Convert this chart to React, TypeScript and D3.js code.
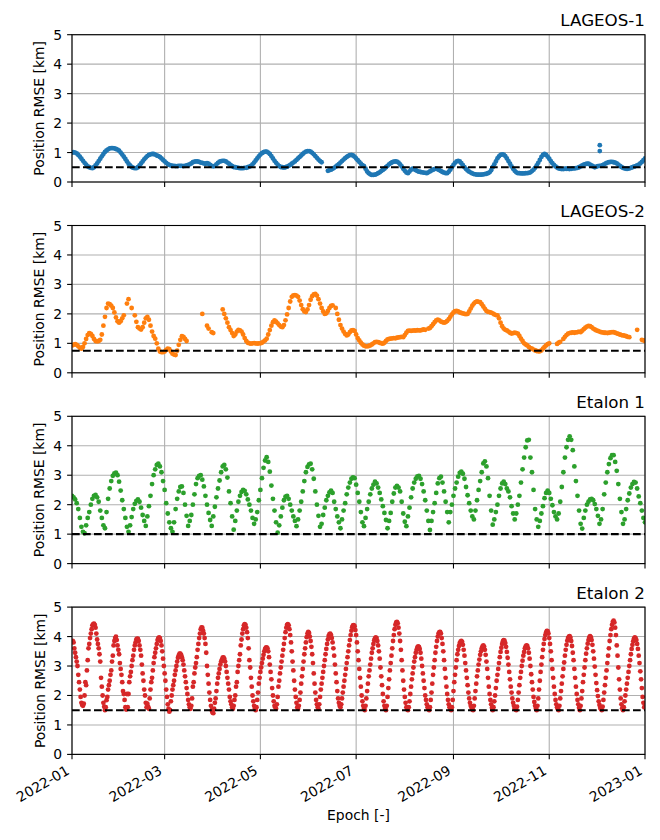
import React from 'react';
import * as d3 from 'd3';

// ---------- data ----------
const START = Date.UTC(2022, 0, 1);
const END = Date.UTC(2023, 0, 1);
const DAY = 86400000;

const SAT_NAMES = ['LAGEOS-1', 'LAGEOS-2', 'Etalon 1', 'Etalon 2'];
const SAT_COLORS = ['#1f77b4', '#ff7f0e', '#2ca02c', '#d62728'];
const THRESHOLDS = [0.5, 0.75, 1.0, 1.5];
const Y_TICKS = [0, 1, 2, 3, 4, 5];
const Y_DOMAIN = [0, 5];
const X_LABEL = 'Epoch [-]';
const Y_LABEL = 'Position RMSE [km]';

// daily values, index = day of 2022
const LAGEOS1_DAILY: (number | null)[] = [
  1.0,1.01,1.0,0.97,0.92,0.86,0.79,0.72,0.65,0.59,
  0.53,0.5,0.48,0.47,0.5,0.56,0.63,0.71,0.79,0.87,
  0.95,1.02,1.07,1.11,1.14,1.15,1.15,1.14,1.12,1.1,
  1.06,1.0,0.93,0.86,0.78,0.7,0.62,0.56,0.51,0.48,
  0.47,0.47,0.5,0.56,0.63,0.7,0.77,0.83,0.88,0.92,
  0.94,0.95,0.95,0.93,0.9,0.88,0.85,0.8,0.75,0.7,
  0.65,0.61,0.58,0.56,0.55,0.55,0.54,0.54,0.55,0.55,
  0.55,0.54,0.55,0.56,0.58,0.6,0.63,0.67,0.69,0.7,
  0.7,0.68,0.66,0.65,0.63,0.62,0.64,0.62,0.58,0.55,
  0.53,0.55,0.6,0.65,0.69,0.71,0.72,0.72,0.7,0.66,
  0.62,0.58,0.54,0.51,0.5,0.49,0.48,0.47,0.47,0.47,
  0.48,0.48,0.5,0.52,0.55,0.6,0.66,0.73,0.8,0.87,
  0.93,0.98,1.01,1.03,1.03,1.0,0.95,0.88,0.8,0.72,
  0.65,0.59,0.54,0.51,0.5,0.49,0.5,0.52,0.55,0.58,
  0.62,0.66,0.7,0.75,0.8,0.85,0.9,0.95,1.0,1.03,
  1.05,1.05,1.03,0.99,0.94,0.88,0.82,0.76,0.71,0.67,
  null,null,null,0.38,0.4,0.42,0.45,0.48,0.52,0.56,
  0.61,0.66,0.71,0.76,0.81,0.85,0.89,0.91,0.92,0.9,
  0.86,0.8,0.74,0.68,0.62,0.57,0.54,0.45,0.36,0.3,
  0.26,0.24,0.24,0.25,0.27,0.3,0.33,0.37,0.41,0.45,
  0.5,0.55,0.6,0.64,0.67,0.69,0.7,0.69,0.66,0.6,
  0.53,0.45,0.38,0.32,0.3,0.36,0.42,0.45,0.43,0.4,
  0.37,0.35,0.34,0.33,0.32,0.31,0.3,0.33,0.36,0.39,
  0.42,0.44,0.45,0.43,0.4,0.37,0.34,0.32,0.3,0.3,
  0.35,0.42,0.5,0.58,0.65,0.7,0.72,0.7,0.64,0.57,
  0.5,0.44,0.39,0.35,0.32,0.29,0.27,0.26,0.25,0.25,
  0.25,0.25,0.26,0.27,0.28,0.3,0.33,0.4,0.5,0.6,
  0.7,0.8,0.87,0.92,0.94,0.93,0.88,0.8,0.71,0.62,
  0.53,0.45,0.38,0.33,0.3,0.3,0.29,0.29,0.29,0.3,
  0.3,0.31,0.33,0.37,0.42,0.48,0.56,0.65,0.75,0.85,
  0.92,0.95,0.92,0.86,0.79,0.71,0.64,0.58,0.53,0.49,
  0.46,0.45,0.44,0.44,0.45,0.45,0.45,0.44,0.45,0.46,
  0.46,0.47,0.48,0.5,0.53,0.56,0.59,0.61,0.62,0.62,
  0.59,0.56,0.53,0.5,0.52,0.54,0.55,0.55,0.57,0.6,
  0.63,0.66,0.67,0.68,0.68,0.67,0.66,0.63,0.59,0.55,
  0.51,0.48,0.46,0.45,0.45,0.46,0.48,0.5,0.52,0.54,
  0.56,0.59,0.63,0.68,0.74,0.8,
];
const LAGEOS1_OUTLIERS: [number, number][] = [[336.2, 1.25], [336.2, 1.05]];

const LAGEOS2_DAILY: (number | null)[] = [
  0.93,0.95,0.97,0.95,0.9,0.85,0.82,0.88,1.0,1.15,
  1.28,1.35,1.32,1.25,1.15,1.08,1.07,1.08,1.12,1.3,
  1.6,1.9,2.2,2.35,2.33,2.28,2.2,2.05,1.88,1.75,
  1.7,1.75,1.85,1.95,null,2.35,2.5,null,2.2,null,
  1.95,1.73,1.55,1.5,1.47,1.55,1.7,1.85,1.9,1.8,
  1.6,1.4,1.25,1.16,1.0,0.82,0.72,0.7,0.7,0.72,
  0.78,0.82,0.8,0.72,0.65,0.62,0.6,0.75,0.95,1.12,
  1.24,1.22,1.15,1.08,null,null,null,null,null,null,
  null,null,null,2.0,null,null,1.6,1.5,null,1.38,
  1.35,null,null,null,null,null,2.15,2.0,1.85,1.7,
  1.55,1.45,1.35,1.25,1.3,1.4,1.46,1.44,1.4,1.3,
  1.18,1.08,1.02,1.0,0.99,1.0,1.01,1.0,0.99,1.0,
  1.0,1.02,1.06,1.1,1.16,1.3,1.45,1.6,1.72,1.78,
  1.74,1.68,1.62,1.57,1.55,1.62,1.78,1.98,2.2,2.42,
  2.58,2.63,2.64,2.62,2.58,2.45,2.3,2.16,2.08,2.06,
  2.15,2.3,2.48,2.6,2.66,2.68,2.62,2.5,2.35,2.2,
  2.08,2.0,2.02,2.1,2.2,2.27,2.29,null,2.2,2.0,
  1.8,1.62,1.5,1.4,1.32,1.27,1.3,1.38,1.44,1.45,
  1.42,1.3,1.18,1.1,1.02,0.96,0.92,0.9,0.9,0.91,
  0.93,0.96,1.0,1.04,1.05,1.04,1.02,1.0,0.99,1.02,
  1.08,1.13,1.15,1.16,1.17,1.18,1.17,1.19,1.2,1.21,
  1.22,1.21,1.28,1.36,1.42,1.43,1.42,1.43,1.44,1.43,
  1.45,1.44,1.44,1.46,1.47,1.46,null,1.5,1.52,1.58,
  1.65,1.72,1.78,1.8,1.78,1.74,1.72,1.7,1.72,1.76,
  1.82,1.9,1.98,2.05,2.09,2.1,2.08,2.05,2.03,2.02,
  2.0,1.99,2.0,2.08,2.18,2.28,2.35,2.4,2.42,2.41,
  2.4,2.33,2.25,2.17,2.1,2.07,2.06,2.04,2.02,1.98,
  1.96,1.95,1.85,1.7,1.58,1.5,1.46,1.44,1.4,1.36,
  1.33,1.35,1.36,1.35,1.33,1.25,1.16,1.08,1.0,0.96,
  0.93,0.88,0.84,0.82,0.79,0.76,0.74,0.73,0.73,0.76,
  0.82,0.88,0.93,0.97,1.0,null,null,null,null,0.98,
  1.02,1.05,null,1.15,1.22,1.28,1.33,1.35,1.36,1.37,
  1.36,1.37,1.38,1.4,1.38,1.43,1.48,1.53,1.57,1.59,
  1.58,1.55,1.5,1.47,1.44,1.42,1.4,1.38,1.37,1.36,
  1.36,1.35,1.36,1.37,1.38,1.38,1.36,1.34,1.32,1.3,
  1.28,1.27,1.26,1.24,1.22,1.21,null,null,null,null,
  1.46,null,null,1.12,1.1,1.08,
];

const ETALON1_DAILY: (number | null)[] = [
  2.3,2.25,2.18,2.05,1.85,1.55,1.25,1.08,1.03,1.3,
  1.55,1.75,2.0,2.2,2.3,2.33,2.25,2.1,1.8,1.55,
  1.3,1.2,1.75,2.2,2.55,2.8,2.98,3.06,3.09,3.0,
  2.78,2.48,2.15,1.85,1.55,1.25,1.08,1.3,1.58,1.85,
  2.03,2.13,2.18,2.1,1.9,1.65,1.45,1.28,1.6,1.95,
  2.3,2.7,3.0,3.2,3.35,3.39,3.3,3.1,2.8,2.5,
  2.05,1.7,1.4,1.2,1.08,1.4,1.85,2.2,2.45,2.6,
  2.62,2.4,2.0,1.62,1.28,1.45,1.65,2.0,2.35,2.7,
  2.9,2.98,3.0,2.85,2.62,2.3,2.0,1.72,1.48,1.28,
  1.6,1.93,2.25,2.55,2.82,3.1,3.3,3.35,3.2,2.92,
  2.45,2.05,1.6,1.15,1.45,1.8,2.1,2.3,2.43,2.5,
  2.47,2.35,2.18,2.0,1.8,1.55,1.35,1.5,1.75,2.15,
  2.5,2.9,3.25,3.5,3.61,3.45,3.12,2.65,2.2,1.8,
  1.4,1.05,1.3,1.6,1.9,2.15,2.27,2.3,2.2,2.0,
  1.8,1.6,1.45,1.27,1.5,1.8,2.1,2.45,2.8,3.1,
  3.28,3.37,3.39,3.2,2.88,2.45,2.0,1.62,1.25,1.35,
  1.65,1.9,2.15,2.3,2.42,2.48,2.4,2.1,1.85,1.6,
  1.4,1.2,1.5,1.8,2.05,2.35,2.58,2.75,2.88,2.93,
  2.9,2.68,2.4,2.1,1.75,1.4,1.27,1.55,1.85,2.1,
  2.35,2.55,2.68,2.78,2.72,2.58,2.4,2.18,1.95,1.72,
  1.48,1.2,1.45,1.72,2.1,2.38,2.58,2.64,2.58,2.45,
  2.1,1.7,1.42,1.27,1.6,1.9,2.25,2.55,2.75,2.88,
  2.96,2.98,2.88,2.7,2.45,2.15,1.8,1.45,1.14,1.45,
  1.75,2.05,2.4,2.72,2.9,2.95,2.75,2.45,2.1,1.75,
  1.4,1.75,2.0,2.3,2.55,2.75,2.95,3.08,3.12,3.05,
  2.88,2.6,2.32,2.05,1.8,1.6,1.5,1.8,2.15,2.5,
  2.8,3.1,3.4,3.47,3.3,2.9,2.3,1.8,1.32,1.5,
  1.75,2.0,2.3,2.55,2.72,2.78,2.7,2.55,2.45,2.25,
  1.95,1.7,1.5,1.7,2.0,2.3,2.75,3.2,3.6,3.95,
  4.18,4.2,3.6,3.1,2.5,1.85,1.5,1.25,1.45,1.7,
  1.95,2.22,2.4,2.48,2.4,2.2,1.98,1.75,1.6,1.5,
  1.7,2.1,2.6,3.1,3.6,3.95,4.2,4.32,4.2,3.85,
  3.3,2.8,2.3,1.8,1.35,1.19,1.55,1.8,2.0,2.1,
  2.18,2.2,2.15,2.02,1.85,1.62,1.35,1.5,1.85,2.35,
  2.75,3.1,3.38,3.58,3.68,3.68,3.45,3.15,2.7,2.2,
  1.75,1.35,1.5,1.85,2.15,2.38,2.58,2.7,2.77,2.75,
  2.55,2.28,2.05,1.8,1.55,1.4,
];

// [day of 2022, km]
const ETALON2_POINTS: [number, number][] = [
  [0.5,3.85],[1,3.8],[1.5,3.6],[2,3.45],[2.5,3.3],[3,3.15],[3.5,3.0],[4,2.7],[4.5,2.45],[5,2.2],[5.5,1.95],[6,1.75],[6.5,1.68],[7,1.65],[7.5,1.72],[8,2.0],[8.5,2.45],[9,2.35],[9.5,2.85],[10,3.2],[10.5,3.6],[11,3.75],[11.5,3.95],[12,4.1],[12.5,4.25],[13,4.38],[13.5,4.42],[14,4.44],[14.5,4.4],[15,4.3],[15.5,4.1],[16,3.9],[16.5,3.75],[17,3.6],[17.5,3.4],[18,3.15],[18.5,2.6],[19,2.3],[19.5,2.0],[20,1.75],[20.5,1.62],[21,1.5],
  [21.5,1.6],[22,1.84],[22.5,1.95],[23,2.2],[23.5,2.35],[24,2.5],[24.5,2.7],[25,2.85],[25.5,3.15],[26,3.35],[26.5,3.7],[27,3.85],[27.5,3.95],[28,4.0],[28.5,3.88],[29,3.7],[29.5,3.55],[30,3.4],[30.5,3.1],[31,2.9],[31.5,2.7],[32,2.45],[32.5,2.15],[33,2.05],[33.5,1.85],[34,1.6],[34.5,1.52],[35,2.05],[35.5,1.6],
  [36,2.05],[36.5,2.45],[37,2.65],[37.5,2.8],[38,3.0],[38.5,3.2],[39,3.35],[39.5,3.55],[40,3.7],[40.5,3.8],[41,3.9],[41.5,3.93],[42,3.92],[42.5,3.85],[43,3.7],[43.5,3.55],[44,3.35],[44.5,3.05],[45,2.75],[45.5,2.5],[46,2.2],[46.5,2.0],[47,1.75],[47.5,1.6],[48,1.72],[48.5,1.62],[49,1.55],
  [49.5,1.9],[50,2.2],[50.5,2.45],[51,2.6],[51.5,2.85],[52,3.1],[52.5,3.3],[53,3.45],[53.5,3.6],[54,3.75],[54.5,3.88],[55,3.95],[55.5,3.97],[56,3.95],[56.5,3.85],[57,3.7],[57.5,3.5],[58,3.25],[58.5,3.0],[59,2.75],[59.5,2.5],[60,2.2],[60.5,1.95],[61,1.7],[61.5,1.55],[62,1.45],
  [62.5,1.5],[63,1.8],[63.5,2.0],[64,2.2],[64.5,2.35],[65,2.5],[65.5,2.7],[66,2.85],[66.5,3.0],[67,3.15],[67.5,3.28],[68,3.36],[68.5,3.42],[69,3.42],[69.5,3.38],[70,3.3],[70.5,3.2],[71,3.05],[71.5,2.85],[72,2.65],[72.5,2.45],[73,2.25],[73.5,2.05],[74,1.85],[74.5,1.7],[75,1.6],[75.5,1.55],
  [76,1.65],[76.5,1.9],[77,2.3],[77.5,2.45],[78,2.75],[78.5,2.95],[79,3.1],[79.5,3.3],[80,3.55],[80.5,3.75],[81,3.95],[81.5,4.1],[82,4.25],[82.5,4.31],[83,4.3],[83.5,4.2],[84,4.1],[84.5,3.95],[85,3.75],[85.5,3.45],[86,3.0],[86.5,2.7],[87,2.4],[87.5,2.1],[88,1.85],[88.5,1.65],[89,1.5],[89.5,1.42],[90,1.4],
  [90.5,1.55],[91,1.75],[91.5,1.9],[92,2.15],[92.5,2.4],[93,2.6],[93.5,2.75],[94,2.9],[94.5,3.05],[95,3.15],[95.5,3.22],[96,3.28],[96.5,3.29],[97,3.25],[97.5,3.15],[98,3.0],[98.5,2.8],[99,2.6],[99.5,2.4],[100,2.2],[100.5,1.95],[101,1.8],[101.5,1.7],[102,1.6],[102.5,1.55],
  [103,1.65],[103.5,1.85],[104,2.0],[104.5,2.3],[105,2.45],[105.5,2.8],[106,3.0],[106.5,3.2],[107,3.4],[107.5,3.7],[108,3.9],[108.5,4.1],[109,4.25],[109.5,4.38],[110,4.42],[110.5,4.4],[111,4.3],[111.5,4.15],[112,3.95],[112.5,3.6],[113,3.2],[113.5,2.95],[114,2.6],[114.5,2.3],[115,2.0],[115.5,1.8],[116,1.65],[116.5,1.55],[117,1.5],
  [117.5,1.6],[118,1.85],[118.5,2.1],[119,2.4],[119.5,2.6],[120,2.8],[120.5,2.95],[121,3.1],[121.5,3.25],[122,3.38],[122.5,3.5],[123,3.58],[123.5,3.62],[124,3.63],[124.5,3.6],[125,3.5],[125.5,3.3],[126,3.05],[126.5,2.8],[127,2.55],[127.5,2.25],[128,2.0],[128.5,1.8],[129,1.65],[129.5,1.6],[130,1.55],
  [130.5,1.7],[131,1.95],[131.5,2.3],[132,2.5],[132.5,2.75],[133,2.95],[133.5,3.15],[134,3.35],[134.5,3.55],[135,3.75],[135.5,3.95],[136,4.15],[136.5,4.3],[137,4.4],[137.5,4.42],[138,4.38],[138.5,4.25],[139,4.05],[139.5,3.8],[140,3.5],[140.5,3.15],[141,2.85],[141.5,2.5],[142,2.2],[142.5,1.95],[143,1.75],[143.5,1.6],[144,1.55],
  [144.5,1.65],[145,1.85],[145.5,2.1],[146,2.4],[146.5,2.65],[147,2.9],[147.5,3.15],[148,3.4],[148.5,3.6],[149,3.8],[149.5,3.98],[150,4.1],[150.5,4.16],[151,4.12],[151.5,4.0],[152,3.85],[152.5,3.65],[153,3.4],[153.5,3.1],[154,2.75],[154.5,2.4],[155,2.1],[155.5,1.85],[156,1.7],[156.5,1.6],[157,1.55],
  [157.5,1.7],[158,1.95],[158.5,2.2],[159,2.4],[159.5,2.6],[160,2.8],[160.5,3.0],[161,3.2],[161.5,3.4],[162,3.58],[162.5,3.75],[163,3.9],[163.5,4.02],[164,4.08],[164.5,4.1],[165,4.05],[165.5,3.95],[166,3.8],[166.5,3.6],[167,3.35],[167.5,3.05],[168,2.75],[168.5,2.45],[169,2.15],[169.5,1.9],[170,1.75],[170.5,1.65],[171,1.6],
  [171.5,1.7],[172,1.9],[172.5,2.1],[173,2.3],[173.5,2.5],[174,2.7],[174.5,2.9],[175,3.1],[175.5,3.3],[176,3.5],[176.5,3.7],[177,3.88],[177.5,4.05],[178,4.2],[178.5,4.32],[179,4.38],[179.5,4.39],[180,4.35],[180.5,4.22],[181,4.05],[181.5,3.8],[182,3.5],[182.5,3.2],[183,2.9],[183.5,2.6],[184,2.3],[184.5,2.0],[185,1.8],[185.5,1.65],[186,1.55],[186.5,1.5],
  [187,1.65],[187.5,1.9],[188,2.15],[188.5,2.4],[189,2.65],[189.5,2.85],[190,3.05],[190.5,3.25],[191,3.45],[191.5,3.6],[192,3.75],[192.5,3.87],[193,3.94],[193.5,3.97],[194,3.95],[194.5,3.85],[195,3.7],[195.5,3.5],[196,3.25],[196.5,2.95],[197,2.65],[197.5,2.35],[198,2.05],[198.5,1.8],[199,1.65],[199.5,1.55],[200,1.5],
  [200.5,1.65],[201,1.95],[201.5,2.25],[202,2.55],[202.5,2.85],[203,3.1],[203.5,3.35],[204,3.6],[204.5,3.85],[205,4.05],[205.5,4.25],[206,4.4],[206.5,4.48],[207,4.5],[207.5,4.45],[208,4.3],[208.5,4.1],[209,3.85],[209.5,3.55],[210,3.2],[210.5,2.85],[211,2.5],[211.5,2.2],[212,1.95],[212.5,1.75],[213,1.6],[213.5,1.52],[214,1.5],
  [214.5,1.6],[215,1.8],[215.5,2.05],[216,2.3],[216.5,2.55],[217,2.75],[217.5,2.95],[218,3.15],[218.5,3.3],[219,3.45],[219.5,3.55],[220,3.63],[220.5,3.67],[221,3.65],[221.5,3.58],[222,3.45],[222.5,3.25],[223,3.0],[223.5,2.75],[224,2.5],[224.5,2.25],[225,2.0],[225.5,1.85],[226,1.7],[226.5,1.6],[227,1.55],[227.5,1.5],
  [228,1.6],[228.5,1.85],[229,2.1],[229.5,2.4],[230,2.7],[230.5,2.95],[231,3.2],[231.5,3.45],[232,3.65],[232.5,3.85],[233,4.0],[233.5,4.1],[234,4.15],[234.5,4.16],[235,4.1],[235.5,3.95],[236,3.75],[236.5,3.5],[237,3.2],[237.5,2.9],[238,2.6],[238.5,2.3],[239,2.05],[239.5,1.85],[240,1.7],[240.5,1.6],[241,1.55],[241.5,1.5],
  [242,1.6],[242.5,1.85],[243,2.15],[243.5,2.45],[244,2.7],[244.5,2.95],[245,3.2],[245.5,3.4],[246,3.55],[246.5,3.68],[247,3.78],[247.5,3.83],[248,3.85],[248.5,3.82],[249,3.72],[249.5,3.55],[250,3.35],[250.5,3.1],[251,2.85],[251.5,2.6],[252,2.35],[252.5,2.1],[253,1.9],[253.5,1.75],[254,1.65],[254.5,1.58],[255,1.52],[255.5,1.5],
  [256,1.65],[256.5,1.9],[257,2.15],[257.5,2.4],[258,2.65],[258.5,2.85],[259,3.05],[259.5,3.22],[260,3.38],[260.5,3.5],[261,3.6],[261.5,3.67],[262,3.7],[262.5,3.66],[263,3.55],[263.5,3.38],[264,3.15],[264.5,2.9],[265,2.6],[265.5,2.3],[266,2.05],[266.5,1.85],[267,1.7],[267.5,1.58],[268,1.5],
  [268.5,1.6],[269,1.8],[269.5,2.0],[270,2.25],[270.5,2.5],[271,2.7],[271.5,2.9],[272,3.1],[272.5,3.3],[273,3.48],[273.5,3.62],[274,3.75],[274.5,3.84],[275,3.88],[275.5,3.86],[276,3.78],[276.5,3.65],[277,3.48],[277.5,3.28],[278,3.05],[278.5,2.8],[279,2.55],[279.5,2.3],[280,2.1],[280.5,1.9],[281,1.75],[281.5,1.65],[282,1.57],[282.5,1.52],[283,1.5],
  [283.5,1.62],[284,1.85],[284.5,2.1],[285,2.35],[285.5,2.6],[286,2.8],[286.5,3.0],[287,3.18],[287.5,3.35],[288,3.48],[288.5,3.6],[289,3.67],[289.5,3.7],[290,3.68],[290.5,3.6],[291,3.45],[291.5,3.25],[292,3.0],[292.5,2.72],[293,2.45],[293.5,2.2],[294,1.95],[294.5,1.78],[295,1.65],[295.5,1.55],[296,1.5],
  [296.5,1.65],[297,1.9],[297.5,2.2],[298,2.5],[298.5,2.8],[299,3.05],[299.5,3.3],[300,3.55],[300.5,3.75],[301,3.92],[301.5,4.05],[302,4.14],[302.5,4.19],[303,4.18],[303.5,4.1],[304,3.95],[304.5,3.75],[305,3.5],[305.5,3.2],[306,2.9],[306.5,2.6],[307,2.3],[307.5,2.05],[308,1.85],[308.5,1.7],[309,1.6],[309.5,1.53],[310,1.5],
  [310.5,1.65],[311,1.9],[311.5,2.15],[312,2.4],[312.5,2.65],[313,2.9],[313.5,3.12],[314,3.35],[314.5,3.55],[315,3.72],[315.5,3.86],[316,3.95],[316.5,4.0],[317,4.01],[317.5,3.96],[318,3.85],[318.5,3.68],[319,3.45],[319.5,3.2],[320,2.9],[320.5,2.6],[321,2.3],[321.5,2.05],[322,1.85],[322.5,1.7],[323,1.58],[323.5,1.5],
  [324,1.65],[324.5,1.9],[325,2.15],[325.5,2.45],[326,2.7],[326.5,2.95],[327,3.2],[327.5,3.42],[328,3.6],[328.5,3.76],[329,3.88],[329.5,3.97],[330,4.01],[330.5,3.98],[331,3.88],[331.5,3.72],[332,3.5],[332.5,3.25],[333,2.98],[333.5,2.7],[334,2.42],[334.5,2.18],[335,1.98],[335.5,1.8],[336,1.68],[336.5,1.58],[337,1.53],[337.5,1.5],
  [338,1.62],[338.5,1.85],[339,2.1],[339.5,2.35],[340,2.6],[340.5,2.85],[341,3.1],[341.5,3.35],[342,3.6],[342.5,3.85],[343,4.05],[343.5,4.25],[344,4.4],[344.5,4.5],[345,4.54],[345.5,4.48],[346,4.3],[346.5,4.05],[347,3.7],[347.5,3.35],[348,2.95],[348.5,2.55],[349,2.2],[349.5,1.9],[350,1.7],[350.5,1.57],[351,1.5],
  [351.5,1.6],[352,1.8],[352.5,2.0],[353,2.2],[353.5,2.4],[354,2.6],[354.5,2.8],[355,3.0],[355.5,3.2],[356,3.4],[356.5,3.58],[357,3.72],[357.5,3.84],[358,3.93],[358.5,3.97],[359,3.95],[359.5,3.88],[360,3.75],[360.5,3.58],[361,3.35],[361.5,3.1],[362,2.82],[362.5,2.55],[363,2.25],[363.5,1.95],[364,1.75],[364.5,1.6],
];

// ---------- helpers ----------
const dailyPoints = (arr: (number | null)[]): [number, number][] =>
  arr.flatMap((v, i) => (v == null ? [] : [[i, v] as [number, number]]));

const SERIES: [number, number][][] = [
  [...dailyPoints(LAGEOS1_DAILY), ...LAGEOS1_OUTLIERS],
  dailyPoints(LAGEOS2_DAILY),
  dailyPoints(ETALON1_DAILY),
  ETALON2_POINTS,
];

// ---------- layout ----------
const W = 660;
const H = 840;
const X0 = 72;
const X1 = 645;
const PANEL_TOPS = [34.7, 225.5, 416.3, 607.1];
const PANEL_H = 147.3;
const FONT = "'DejaVu Sans', 'Liberation Sans', sans-serif";
const FS = 13.9;
const TITLE_FS = 16.7;
const TICK_LEN = 4.9;
const PAD = 4.9;
const DOT_R = 2.4;

export default function App() {
  const x = d3.scaleUtc().domain([new Date(START), new Date(END)]).range([X0, X1]);
  const xTicks = x.ticks(d3.utcMonth.every(2) as any);
  const fmt = d3.utcFormat('%Y-%m');
  const toDate = (d: number) => new Date(START + d * DAY);

  return (
    <div style={{ position: 'absolute', left: 0, top: 0, width: W, height: H, background: '#fff' }}>
      <svg width={W} height={H} style={{ display: 'block' }} fontFamily={FONT}>
        <rect x={0} y={0} width={W} height={H} fill="#fff" />
        <defs>
          {PANEL_TOPS.map((top, k) => (
            <clipPath id={`clip${k}`} key={k}>
              <rect x={X0} y={top} width={X1 - X0} height={PANEL_H} />
            </clipPath>
          ))}
        </defs>
        {SERIES.map((pts, k) => {
          const top = PANEL_TOPS[k];
          const bottom = top + PANEL_H;
          const y = d3.scaleLinear().domain(Y_DOMAIN).range([bottom, top]);
          const isLast = k === SERIES.length - 1;
          return (
            <g key={k}>
              {/* grid */}
              <g stroke="#b0b0b0" strokeWidth={1.1}>
                {xTicks.map((t, i) => (
                  <line key={`gx${i}`} x1={x(t)} x2={x(t)} y1={top} y2={bottom} />
                ))}
                {Y_TICKS.map((v) => (
                  <line key={`gy${v}`} x1={X0} x2={X1} y1={y(v)} y2={y(v)} />
                ))}
              </g>
              {/* data */}
              <g clipPath={`url(#clip${k})`} fill={SAT_COLORS[k]}>
                {pts.map(([d, v], i) => (
                  <circle key={i} cx={x(toDate(d))} cy={y(v)} r={DOT_R} />
                ))}
              </g>
              {/* threshold */}
              <line
                x1={X0}
                x2={X1}
                y1={y(THRESHOLDS[k])}
                y2={y(THRESHOLDS[k])}
                stroke="#000"
                strokeWidth={2.08}
                strokeDasharray="7.7,3.3"
              />
              {/* spines */}
              <rect x={X0} y={top} width={X1 - X0} height={PANEL_H} fill="none" stroke="#000" strokeWidth={1.1} />
              {/* y ticks */}
              {Y_TICKS.map((v) => (
                <g key={`yt${v}`}>
                  <line x1={X0 - TICK_LEN} x2={X0} y1={y(v)} y2={y(v)} stroke="#000" strokeWidth={1.1} />
                  <text x={X0 - TICK_LEN - PAD} y={y(v) + 5} textAnchor="end" fontSize={FS} fill="#000">
                    {v}
                  </text>
                </g>
              ))}
              {/* x ticks */}
              {xTicks.map((t, i) => (
                <line key={`xt${i}`} x1={x(t)} x2={x(t)} y1={bottom} y2={bottom + TICK_LEN} stroke="#000" strokeWidth={1.1} />
              ))}
              {isLast &&
                xTicks.map((t, i) => {
                  const px = x(t) - 1.65;
                  const py = bottom + TICK_LEN + PAD + 9.2;
                  return (
                    <text
                      key={`xl${i}`}
                      x={px}
                      y={py}
                      textAnchor="end"
                      fontSize={FS}
                      fill="#000"
                      transform={`rotate(-30 ${px} ${py})`}
                    >
                      {fmt(t)}
                    </text>
                  );
                })}
              {/* title */}
              <text x={X1} y={top - 8.3} textAnchor="end" fontSize={TITLE_FS} fill="#000">
                {SAT_NAMES[k]}
              </text>
              {/* y label */}
              <text
                x={44.5}
                y={(top + bottom) / 2}
                textAnchor="middle"
                fontSize={FS}
                fill="#000"
                transform={`rotate(-90 44.5 ${(top + bottom) / 2})`}
              >
                {Y_LABEL}
              </text>
            </g>
          );
        })}
        <text x={(X0 + X1) / 2} y={820} textAnchor="middle" fontSize={FS} fill="#000">
          {X_LABEL}
        </text>
      </svg>
    </div>
  );
}
